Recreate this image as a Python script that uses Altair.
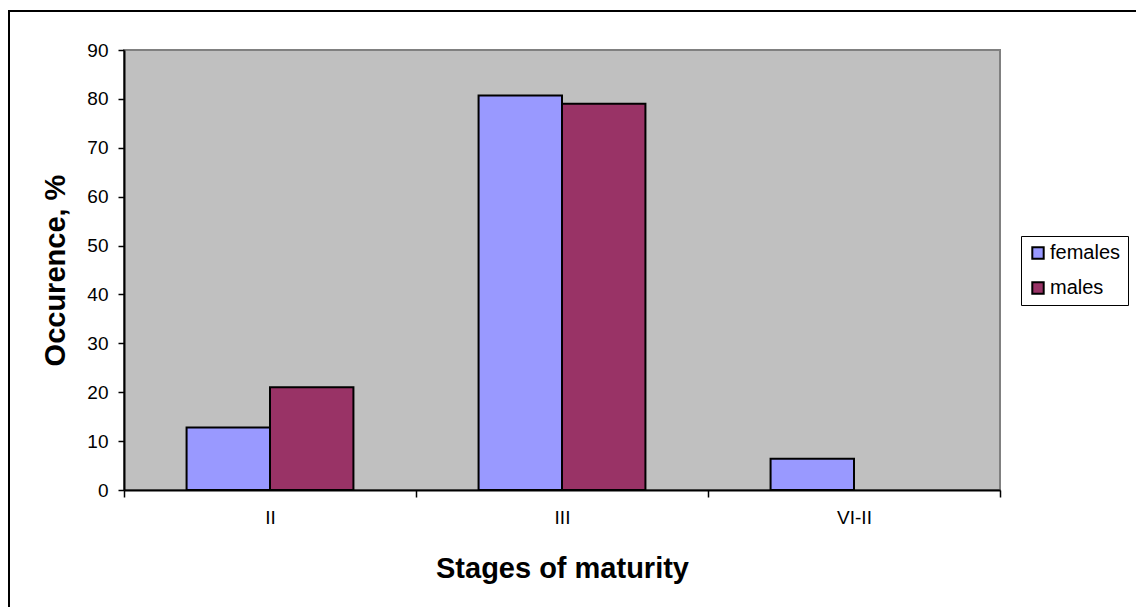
import altair as alt
import pandas as pd

# Share of each maturity stage, by sex
stages = ["II", "III", "VI-II"]
females = [12.8, 80.7, 6.4]
males = [21.0, 79.0, 0.0]
sexes = ["females", "males"]
sex_colors = ["#9999FF", "#993366"]
y_ticks = [0, 10, 20, 30, 40, 50, 60, 70, 80, 90]

rows = []
for stage, f, m in zip(stages, females, males):
    rows.append({"stage": stage, "sex": "females", "value": f})
    rows.append({"stage": stage, "sex": "males", "value": m})
df = pd.DataFrame(rows)

PLOT_W, PLOT_H = 876, 440
FONT = "Liberation Sans"

bars = (
    alt.Chart(df)
    .transform_filter(alt.datum.value > 0)
    .mark_bar(stroke="black", strokeWidth=2)
    .encode(
        x=alt.X(
            "stage:N",
            sort=stages,
            scale=alt.Scale(paddingInner=0, paddingOuter=0),
            axis=alt.Axis(
                title="Stages of maturity",
                labelAngle=0,
                tickBand="extent",
                tickSize=7,
                labelPadding=11,
                titlePadding=27,
            ),
        ),
        xOffset=alt.XOffset(
            "sex:N",
            sort=sexes,
            scale=alt.Scale(domain=sexes, paddingInner=0, paddingOuter=0.75),
        ),
        y=alt.Y(
            "value:Q",
            scale=alt.Scale(domain=[0, 90], nice=False),
            axis=alt.Axis(
                title="Occurence, %",
                values=y_ticks,
                tickSize=6,
                labelPadding=10,
                titlePadding=16,
            ),
        ),
        color=alt.Color(
            "sex:N",
            sort=sexes,
            scale=alt.Scale(domain=sexes, range=sex_colors),
            legend=alt.Legend(
                title=None,
                orient="none",
                legendX=897,
                legendY=186,
                symbolType="square",
                symbolSize=130,
                symbolStrokeColor="black",
                symbolStrokeWidth=2,
                symbolOpacity=1,
                labelFontSize=20,
                labelFont=FONT,
                labelColor="black",
                rowPadding=15,
                padding=7,
                strokeColor="black",
                fillColor="white",
                labelOffset=2,
            ),
        ),
    )
)

# Outer chart frame (left and top edges)
frame_data = alt.Data(values=[{}])
frame_left = alt.Chart(frame_data).mark_rule(color="black", strokeWidth=2).encode(
    x=alt.value(-115), y=alt.value(-40), y2=alt.value(PLOT_H + 200)
)
frame_top = alt.Chart(frame_data).mark_rule(color="black", strokeWidth=2).encode(
    x=alt.value(-116), x2=alt.value(PLOT_W + 200), y=alt.value(-39)
)

chart = (
    alt.layer(bars, frame_left, frame_top)
    .properties(
        width=PLOT_W,
        height=PLOT_H,
        background="white",
        padding={"left": 124, "top": 50, "right": 136, "bottom": 117},
        autosize=alt.AutoSizeParams(type="none"),
    )
    .configure_view(fill="#C0C0C0", stroke="#808080", strokeWidth=2)
    .configure_axis(
        grid=False,
        domainColor="black",
        domainWidth=2,
        tickColor="black",
        tickWidth=1.5,
        labelColor="black",
        labelFont=FONT,
        labelFontSize=19,
        titleColor="black",
        titleFont=FONT,
        titleFontSize=29,
        titleFontWeight="bold",
    )
)

chart.save("out.html", embed_options={"renderer": "svg", "actions": False})
